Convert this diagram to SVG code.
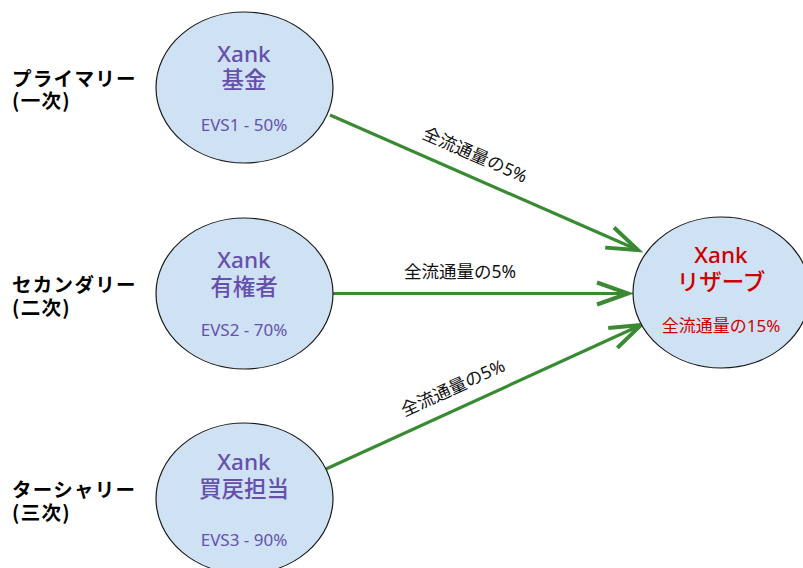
<svg xmlns="http://www.w3.org/2000/svg" width="803" height="568" viewBox="0 0 803 568">
<defs>
<style>
.node{fill:#cfe2f3;stroke:#1a1a1a;stroke-width:1.2}
.t{font-family:"Noto Sans","Noto Sans CJK JP",sans-serif;text-anchor:middle}
.title{font-size:22.5px;font-weight:500;fill:#6650ac}
.sub{font-size:17px;fill:#6650ac}
.red{fill:#cc0000}
.rsub{font-size:17px}
.lvl{font-family:"Noto Sans CJK JP",sans-serif;font-size:19.5px;font-weight:700;fill:#000;letter-spacing:1.3px}
.edge{stroke:#3a8a34;stroke-width:3.2;fill:none}
.elabel{font-family:"Noto Sans","Noto Sans CJK JP",sans-serif;font-size:17.5px;fill:#111;text-anchor:middle}
</style>
<marker id="arr" markerUnits="userSpaceOnUse" markerWidth="40" markerHeight="30" viewBox="-34 -15 40 30" refX="0" refY="0" orient="auto">
<path d="M -31 -11 L 0 0 L -31 11" fill="none" stroke="#3a8a34" stroke-width="4"/>
</marker>
</defs>
<rect width="803" height="568" fill="#fff"/>
<g id="levels">
<text class="lvl" x="12" y="86">プライマリー</text>
<text class="lvl" x="12" y="108">(一次)</text>
<text class="lvl" x="12" y="292">セカンダリー</text>
<text class="lvl" x="12" y="315">(二次)</text>
<text class="lvl" x="12" y="497">ターシャリー</text>
<text class="lvl" x="12" y="520">(三次)</text>
</g>
<g id="connectors">
<line class="edge" x1="330" y1="115" x2="638" y2="250" marker-end="url(#arr)"/>
<line class="edge" x1="333" y1="293.5" x2="628" y2="293.5" marker-end="url(#arr)"/>
<line class="edge" x1="326" y1="469" x2="641" y2="325" marker-end="url(#arr)"/>
<text class="elabel" transform="translate(475,155) rotate(23.7)" y="6">全流通量の5%</text>
<text class="elabel" x="460" y="278">全流通量の5%</text>
<text class="elabel" transform="translate(453,388) rotate(-24.6)" y="6">全流通量の5%</text>
</g>
<g id="node-fund">
<ellipse class="node" cx="244.5" cy="87.5" rx="88.5" ry="75.5"/>
<text class="t title" x="244" y="62">Xank</text>
<text class="t title" x="244" y="88">基金</text>
<text class="t sub" x="244" y="131">EVS1 - 50%</text>
</g>
<g id="node-holders">
<ellipse class="node" cx="244.5" cy="293.5" rx="88.5" ry="75.5"/>
<text class="t title" x="244" y="268">Xank</text>
<text class="t title" x="244" y="295">有権者</text>
<text class="t sub" x="244" y="336">EVS2 - 70%</text>
</g>
<g id="node-buyback">
<ellipse class="node" cx="244.5" cy="498.5" rx="88.5" ry="75.5"/>
<text class="t title" x="244" y="470">Xank</text>
<text class="t title" x="244" y="497">買戻担当</text>
<text class="t sub" x="244" y="546">EVS3 - 90%</text>
</g>
<g id="node-reserve">
<ellipse class="node" cx="721.5" cy="292.5" rx="88.5" ry="75.5"/>
<text class="t title red" x="721" y="263">Xank</text>
<text class="t title red" x="721" y="290">リザーブ</text>
<text class="t red rsub" x="721" y="332">全流通量の15%</text>
</g>
</svg>
